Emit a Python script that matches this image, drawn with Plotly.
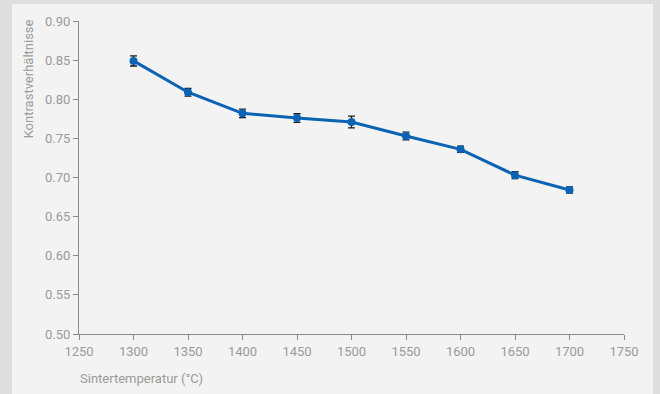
import plotly.graph_objects as go

temps = [1300, 1350, 1400, 1450, 1500, 1550, 1600, 1650, 1700]
ratios = [0.849, 0.809, 0.782, 0.776, 0.771, 0.753, 0.736, 0.703, 0.684]
errors = [0.0065, 0.005, 0.0055, 0.0055, 0.0075, 0.005, 0.004, 0.0045, 0.004]
x_ticks = [1250, 1300, 1350, 1400, 1450, 1500, 1550, 1600, 1650, 1700, 1750]
y_ticks = [0.50, 0.55, 0.60, 0.65, 0.70, 0.75, 0.80, 0.85, 0.90]

FONT = "Roboto, sans-serif"
GREY = "#9a9a9a"
AXIS = "#8a8a8a"

fig = go.Figure()
fig.add_trace(go.Scatter(
    x=temps, y=ratios, mode="lines+markers",
    line=dict(color="#0a63b3", width=3),
    marker=dict(color="#0a63b3", size=8),
    error_y=dict(type="data", array=errors, visible=True, color="#1a1a1a", thickness=1.3, width=3.5),
    showlegend=False,
))

fig.update_layout(
    width=660, height=394,
    margin=dict(l=79, r=36, t=21, b=60),
    paper_bgcolor="#dedede",
    plot_bgcolor="rgba(0,0,0,0)",
    font=dict(family=FONT, size=13, color=GREY),
    shapes=[dict(type="rect", xref="paper", yref="paper",
                 x0=-67/545, x1=574/545, y0=-1.0, y1=(334-4)/313,
                 fillcolor="#f3f3f3", line=dict(width=0), layer="below")],
    annotations=[
        dict(text="Kontrastverhältnisse", xref="paper", yref="paper",
             x=-51/545, y=1.01, xanchor="center", yanchor="top",
             textangle=-90, showarrow=False, font=dict(family=FONT, size=13, color=GREY)),
        dict(text="Sintertemperatur (°C)", xref="paper", yref="paper",
             x=-1/545, y=-44/313, xanchor="left", yanchor="middle",
             showarrow=False, font=dict(family=FONT, size=13, color=GREY)),
    ],
)
fig.update_xaxes(range=[1250, 1750], tickvals=x_ticks, ticks="outside", ticklen=5,
                 tickcolor=AXIS, showline=True, linecolor=AXIS, linewidth=1.2,
                 showgrid=False, zeroline=False, tickfont=dict(size=13, color=GREY))
fig.update_yaxes(range=[0.5, 0.9], tickvals=y_ticks, tickformat=".2f", ticks="outside",
                 ticklen=5, tickcolor=AXIS, showline=True, linecolor=AXIS, linewidth=1.2,
                 showgrid=False, zeroline=False, tickfont=dict(size=13, color=GREY))

fig.write_html("out.html", config={"displayModeBar": False},
               post_script="document.body.style.margin='0';document.body.style.background='#dedede';")
